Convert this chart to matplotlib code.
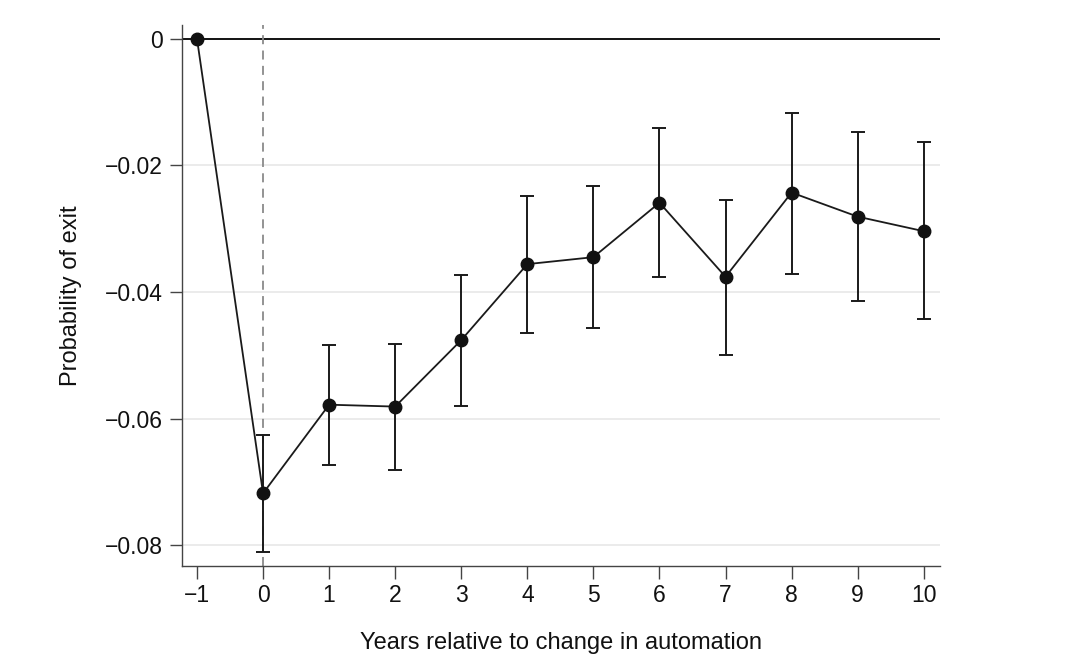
import matplotlib
matplotlib.use("Agg")
import matplotlib.pyplot as plt

years = [-1, 0, 1, 2, 3, 4, 5, 6, 7, 8, 9, 10]
estimate = [0.0, -0.0718, -0.0578, -0.0581, -0.0476, -0.0356, -0.0345, -0.0259, -0.0376, -0.0243, -0.0281, -0.0304]
ci_upper = [None, -0.0626, -0.0483, -0.0482, -0.0373, -0.0248, -0.0232, -0.0141, -0.0255, -0.0117, -0.0147, -0.0163]
ci_lower = [None, -0.0810, -0.0674, -0.0681, -0.0580, -0.0464, -0.0457, -0.0376, -0.0500, -0.0372, -0.0414, -0.0443]
yticks = [0, -0.02, -0.04, -0.06, -0.08]
ytick_labels = ["0", "\u22120.02", "\u22120.04", "\u22120.06", "\u22120.08"]
xtick_labels = ["\u22121"] + [str(v) for v in years[1:]]

plt.rcParams['font.family'] = ['Liberation Sans', 'DejaVu Sans']

fig = plt.figure(figsize=(10.8, 6.7), dpi=100)
ax = fig.add_axes([0.1685, 0.155, 0.7015, 0.808])

for yv in yticks[1:]:
    ax.axhline(yv, color='#e8e8e8', lw=1.2, zorder=0)
ax.axhline(0, color='black', lw=1.3, zorder=1)
ax.axvline(0, color='#8a8a8a', lw=1.3, ls=(0, (5, 3.5)), zorder=1)

ex = [x for x, u in zip(years, ci_upper) if u is not None]
ey = [e for e, u in zip(estimate, ci_upper) if u is not None]
lo = [e - l for e, l, u in zip(estimate, ci_lower, ci_upper) if u is not None]
hi = [u - e for e, l, u in zip(estimate, ci_lower, ci_upper) if u is not None]
ax.errorbar(ex, ey, yerr=[lo, hi], fmt='none', ecolor='#1a1a1a', elinewidth=1.4,
            capsize=5, capthick=1.4, zorder=2)
ax.plot(years, estimate, color='#1a1a1a', lw=1.3, marker='o', markersize=9,
        markerfacecolor='#111111', markeredgecolor='#111111', zorder=3)

ax.set_xlim(-1.227, 10.24)
ax.set_ylim(-0.0833, 0.0022)
ax.set_xticks(years)
ax.set_xticklabels(xtick_labels)
ax.set_yticks(yticks)
ax.set_yticklabels(ytick_labels)
ax.tick_params(axis='both', direction='out', length=9, width=1.0, color='#444444',
               labelsize=16.5, labelcolor='#111111')
ax.tick_params(axis='x', pad=4)
ax.tick_params(axis='y', pad=5)

for s in ['top', 'right']:
    ax.spines[s].set_visible(False)
for s in ['left', 'bottom']:
    ax.spines[s].set_color('#444444')
    ax.spines[s].set_linewidth(1.0)

ax.set_xlabel("Years relative to change in automation", fontsize=17, labelpad=18, color='#111111')
ax.set_ylabel("Probability of exit", fontsize=17, labelpad=16, color='#111111')

fig.savefig("out.png", dpi=100, facecolor='white')
